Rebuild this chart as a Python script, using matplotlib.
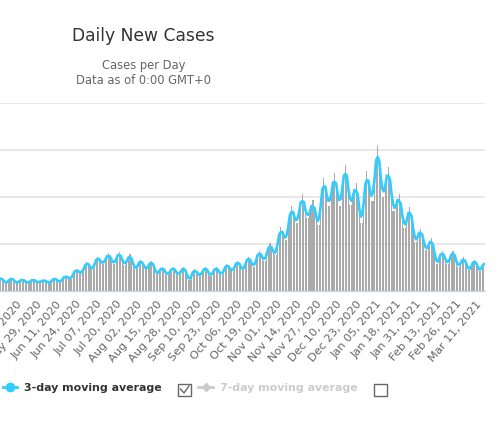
import numpy as np
import pandas as pd
import matplotlib
matplotlib.use("Agg")
import matplotlib.pyplot as plt
import matplotlib.dates as mdates
from matplotlib.lines import Line2D
from matplotlib.patches import Rectangle

# Daily new cases, starting Monday May 04, 2020 (one row per week)
cases = [
    230, 252, 281, 247, 225, 171, 171,
    222, 247, 275, 242, 222, 171, 171,
    212, 227, 253, 222, 212, 171, 171,
    210, 223, 248, 219, 215, 180, 180,
    210, 213, 238, 209, 205, 171, 171,
    222, 247, 275, 242, 232, 189, 189,
    255, 291, 324, 285, 295, 261, 261,
    360, 417, 464, 409, 425, 378, 378,
    498, 558, 621, 546, 542, 459, 459,
    595, 660, 734, 646, 660, 576, 576,
    693, 723, 805, 708, 692, 576, 576,
    703, 743, 827, 728, 691, 555, 555,
    668, 698, 778, 684, 615, 459, 459,
    563, 598, 666, 586, 563, 459, 459,
    553, 578, 644, 566, 498, 360, 360,
    435, 456, 508, 446, 426, 345, 345,
    426, 456, 508, 446, 426, 345, 345,
    426, 456, 508, 446, 362, 230, 230,
    340, 412, 459, 404, 392, 324, 324,
    415, 456, 508, 446, 415, 324, 324,
    415, 456, 508, 446, 426, 345, 345,
    456, 514, 572, 503, 500, 423, 423,
    533, 578, 644, 566, 543, 441, 441,
    585, 660, 734, 646, 627, 518, 518,
    682, 766, 853, 750, 755, 648, 648,
    830, 912, 1015, 893, 895, 765, 765,
    1052, 1217, 1355, 1192, 1232, 1089, 1089,
    1445, 1630, 1814, 1596, 1640, 1440, 1440,
    1755, 1853, 2063, 1815, 1815, 1548, 1548,
    1755, 1736, 1933, 1700, 1670, 1395, 1395,
    1890, 2163, 2408, 2119, 2125, 1818, 1818,
    2170, 2250, 2506, 2204, 2170, 1818, 1818,
    2255, 2415, 2689, 2366, 2265, 1836, 1836,
    2085, 2066, 2300, 2024, 1865, 1440, 1440,
    1980, 2289, 2549, 2242, 2245, 1917, 1917,
    2490, 2765, 3078, 2708, 2540, 2007, 2007,
    2340, 2377, 2646, 2328, 2170, 1701, 1701,
    1900, 1853, 2063, 1815, 1700, 1341, 1341,
    1575, 1610, 1793, 1577, 1415, 1053, 1053,
    1200, 1193, 1328, 1169, 1095, 864, 864,
    1000, 1009, 1123, 988, 840, 576, 576,
    715, 766, 853, 751, 715, 576, 576,
    715, 766, 853, 751, 683, 518, 518,
    618, 640, 713, 627, 575, 441, 441,
    553, 598, 666, 586, 543, 423, 423,
    545, 598,
]
start_date = "2020-05-04"
tick_start = "2020-05-16"
tick_end = "2021-03-11"
title = "Daily New Cases"
subtitle = "Cases per Day\nData as of 0:00 GMT+0"
legend_on = "3-day moving average"
legend_off = "7-day moving average"

W, H = 504, 427
fig = plt.figure(figsize=(W / 100, H / 100), dpi=100)

def fx(px):
    return px / W

def fy(py):
    return 1 - py / H

dates = pd.date_range(start_date, periods=len(cases))
xnum = mdates.date2num(dates)
avg3 = pd.Series(cases).rolling(3, center=True, min_periods=1).mean()

ax = fig.add_axes([0, fy(292), fx(485), (292 - 104) / H])
ax.bar(xnum, cases, width=0.7, color="#aaaaaa", zorder=2)
ax.plot(xnum, avg3, color="#33ccff", lw=1.9, zorder=3, solid_joinstyle="round")

ax.set_ylim(0, 4000)
ax.set_yticks([0, 1000, 2000, 3000, 4000])
ax.yaxis.grid(True, color="#e6e6e6", lw=1.3, zorder=0)
ax.tick_params(axis="y", length=0, labelleft=False)
ax.set_xlim(xnum[0] + 1.48, xnum[0] + 316.8)

ticks = mdates.date2num(pd.date_range(tick_start, tick_end, freq="13D"))
ax.set_xticks(ticks)
ax.xaxis.set_major_formatter(mdates.DateFormatter("%b %d, %Y"))
ax.tick_params(axis="x", length=0, pad=5, labelsize=8.2, labelcolor="#666666")
for lab in ax.get_xticklabels():
    lab.set_rotation(50)
    lab.set_ha("right")
    lab.set_rotation_mode("anchor")

for s in ["top", "left", "right"]:
    ax.spines[s].set_visible(False)
ax.spines["bottom"].set_color("#ccd6eb")
ax.spines["bottom"].set_linewidth(1)

fig.text(fx(143), fy(36), title, ha="center", va="center", fontsize=12.3, color="#333333")
fig.text(fx(144), fy(73), subtitle, ha="center", va="center", fontsize=8.3,
         color="#666666", linespacing=1.25)

# legend
ly = fy(388)
fig.add_artist(Line2D([fx(3), fx(17)], [ly, ly], color="#33ccff", lw=2))
fig.add_artist(Line2D([fx(10)], [ly], color="#33ccff", marker="o", markersize=6, lw=0))
fig.text(fx(24), ly, legend_on, ha="left", va="center", fontsize=7.9,
         fontweight="bold", color="#333333")
fig.add_artist(Rectangle((fx(178), fy(397)), fx(13), 12 / H, fill=False,
                         edgecolor="#666666", lw=1))
fig.add_artist(Line2D([fx(180.5), fx(184), fx(189)], [fy(390), fy(394), fy(387)],
                      color="#666666", lw=1))
fig.add_artist(Line2D([fx(198), fx(213)], [ly, ly], color="#cccccc", lw=2))
fig.add_artist(Line2D([fx(206)], [ly], color="#cccccc", marker="D", markersize=4.5, lw=0))
fig.text(fx(220), ly, legend_off, ha="left", va="center", fontsize=7.9,
         fontweight="bold", color="#cccccc")
fig.add_artist(Rectangle((fx(374), fy(397)), fx(13), 12 / H, fill=False,
                         edgecolor="#666666", lw=1))

fig.savefig("out.png", dpi=100)
